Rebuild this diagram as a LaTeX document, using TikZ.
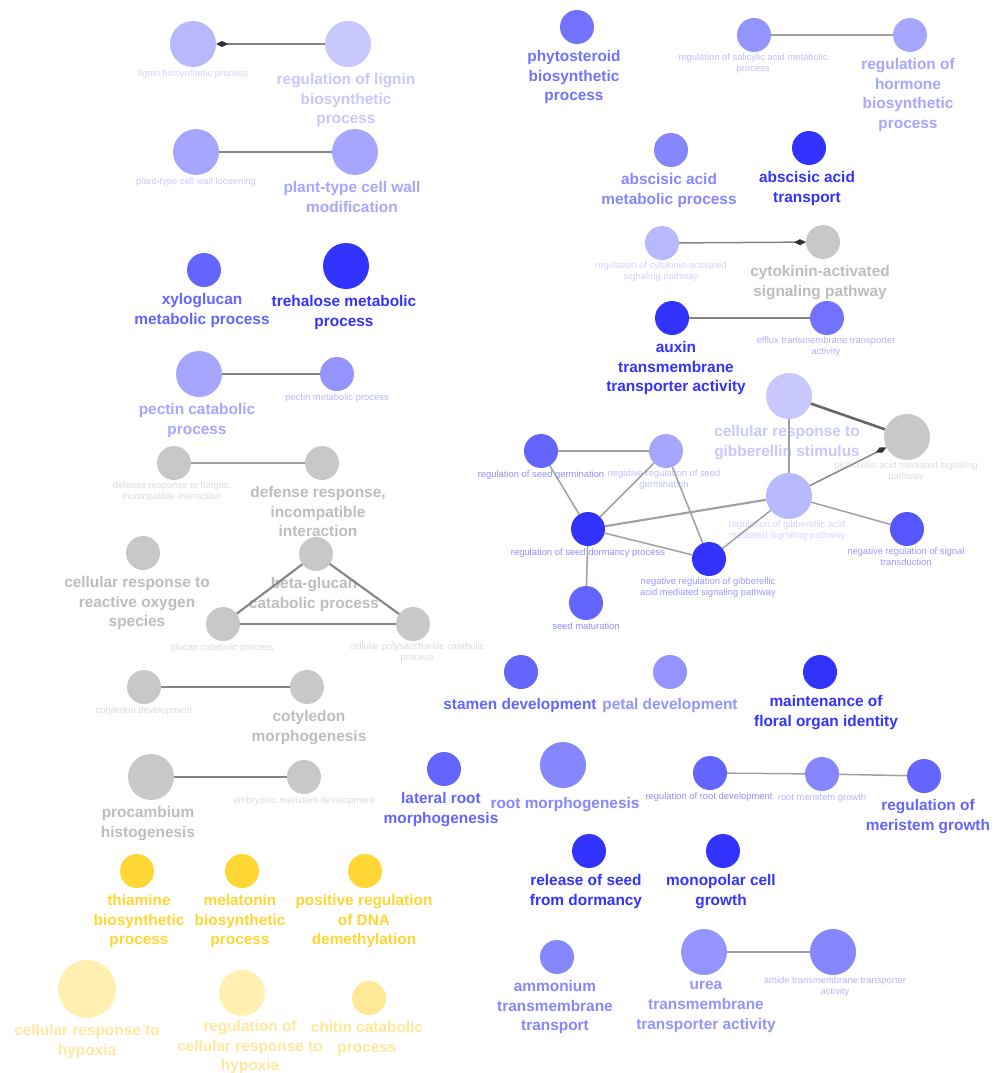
\documentclass[tikz,border=0pt]{standalone}
\usepackage{fontspec}
\setmainfont{Liberation Sans}
\usetikzlibrary{arrows.meta}
\definecolor{b1}{HTML}{C8C8FF}
\definecolor{b2}{HTML}{B8B8FF}
\definecolor{b3}{HTML}{A6A6FF}
\definecolor{b4}{HTML}{9494FF}
\definecolor{b5}{HTML}{8686FF}
\definecolor{b6}{HTML}{7272FF}
\definecolor{b7}{HTML}{6464FF}
\definecolor{b7x}{HTML}{5656FF}
\definecolor{b8}{HTML}{3333FF}
\definecolor{gr}{HTML}{C8C8C8}
\definecolor{grl}{HTML}{BDBDBD}
\definecolor{y1}{HTML}{FFD633}
\definecolor{y2}{HTML}{FFEFB0}
\definecolor{y3}{HTML}{FFE898}
\definecolor{y2l}{HTML}{FFE9A0}
\definecolor{ec}{HTML}{A0A0A0}
\definecolor{ecd}{HTML}{858585}
\pgfdeclarelayer{bg}
\pgfdeclarelayer{lab}
\pgfdeclarelayer{edg}
\pgfsetlayers{bg,lab,edg,main}
\tikzset{
  gn/.style={circle, inner sep=0pt, outer sep=0pt, draw=none},
  nS/.style={gn, minimum size=34pt},
  nM/.style={gn, minimum size=46pt},
  nL/.style={gn, minimum size=58pt},
  bl/.style={font=\bfseries\fontsize{15.4}{19.8}\selectfont, align=center, anchor=north, inner sep=0pt, execute at begin node=\strut, yshift=-3.5pt},
  sl/.style={font=\fontsize{9.4}{11.5}\selectfont, align=center, anchor=north, inner sep=0pt, execute at begin node=\strut},
  ed/.style={draw=ec, line width=1.5pt},
  edd/.style={draw=ecd, line width=2.1pt},
  dia/.style={-{Diamond[length=12pt,width=6pt,color=black!80]}}
}
\begin{document}
\begin{tikzpicture}[x=1pt,y=-1pt]
\useasboundingbox (0,0) rectangle (995,1073);
\begin{pgfonlayer}{bg}
\fill[white] (0,0) rectangle (995,1073);
\end{pgfonlayer}
% ---------------- nodes ----------------
\node[nM, fill=b2] (lig) at (193,44) {};
\node[nM, fill=b1] (reglig) at (348,44) {};
\node[nM, fill=b3] (ptl) at (196,152) {};
\node[nM, fill=b3] (ptm) at (355,152) {};
\node[nS, fill=b7] (xyl) at (204,270) {};
\node[nM, fill=b8] (tre) at (346,266) {};
\node[nM, fill=b3] (pcat) at (199,374) {};
\node[nS, fill=b4] (pmet) at (337,374) {};
\node[nS, fill=gr] (dfun) at (174,463) {};
\node[nS, fill=gr] (dinc) at (322,463) {};
\node[nS, fill=gr] (ros) at (143,553) {};
\node[nS, fill=gr] (bglu) at (316,554) {};
\node[nS, fill=gr] (glu) at (223,624) {};
\node[nS, fill=gr] (cps) at (413,624) {};
\node[nS, fill=gr] (cdev) at (144,687) {};
\node[nS, fill=gr] (cmor) at (307,687) {};
\node[nM, fill=gr] (proc) at (151,777) {};
\node[nS, fill=gr] (emb) at (304,777) {};
\node[nS, fill=y1] (thi) at (137,871) {};
\node[nS, fill=y1] (mel) at (242,871) {};
\node[nS, fill=y1] (dna) at (365,871) {};
\node[nL, fill=y2] (hyp) at (87,989) {};
\node[nM, fill=y2] (rhyp) at (242,993) {};
\node[nS, fill=y3] (chi) at (369,998) {};
\node[nS, fill=b6] (phy) at (577,27) {};
\node[nS, fill=b4] (sal) at (754,35) {};
\node[nS, fill=b3] (hor) at (910,35) {};
\node[nS, fill=b5] (abam) at (671,150) {};
\node[nS, fill=b8] (abat) at (809,148) {};
\node[nS, fill=b2] (rcyt) at (662,243) {};
\node[nS, fill=gr] (cyt) at (823,242) {};
\node[nS, fill=b8] (aux) at (672,318) {};
\node[nS, fill=b6] (eff) at (827,318) {};
\node[nM, fill=b1] (crg) at (789,396) {};
\node[nM, fill=gr] (gas) at (907,437) {};
\node[nM, fill=b2] (rga) at (789,496) {};
\node[nS, fill=b7] (rsg) at (541,451) {};
\node[nS, fill=b3] (nrsg) at (666,451) {};
\node[nS, fill=b8] (rsd) at (588,529) {};
\node[nS, fill=b8] (nrga) at (709,559) {};
\node[nS, fill=b7] (smat) at (586,603) {};
\node[nS, fill=b7x] (nrst) at (907,529) {};
\node[nS, fill=b7] (stam) at (521,672) {};
\node[nS, fill=b4] (pet) at (670,672) {};
\node[nS, fill=b8] (flo) at (820,672) {};
\node[nS, fill=b7] (lat) at (444,769) {};
\node[nM, fill=b5] (rmor) at (563,765) {};
\node[nS, fill=b7] (rrd) at (710,773) {};
\node[nS, fill=b5] (rmg) at (822,774) {};
\node[nS, fill=b7] (rmeg) at (924,776) {};
\node[nS, fill=b8] (rel) at (589,851) {};
\node[nS, fill=b8] (mono) at (723,851) {};
\node[nS, fill=b5] (amm) at (557,957) {};
\node[nM, fill=b4] (urea) at (704,952) {};
\node[nM, fill=b5] (amide) at (833,952) {};
% ---------------- labels ----------------
\begin{pgfonlayer}{lab}
% bold labels
\node[bl, text=b1] at ([xshift=-2pt,yshift=-2.5pt]reglig.south) {regulation of lignin\\biosynthetic\\process};
\node[bl, text=b3] at ([xshift=-3pt,yshift=-2.5pt]ptm.south) {plant-type cell wall\\modification};
\node[bl, text=b7] at ([xshift=-2pt,yshift=-2.5pt]xyl.south) {xyloglucan\\metabolic process};
\node[bl, text=b8] at ([xshift=-2pt,yshift=-2.5pt]tre.south) {trehalose metabolic\\process};
\node[bl, text=b3] at ([xshift=-2pt,yshift=-2.5pt]pcat.south) {pectin catabolic\\process};
\node[bl, text=grl] at ([xshift=-4pt,yshift=-2.5pt]dinc.south) {defense response,\\incompatible\\interaction};
\node[bl, text=grl] at ([xshift=-6pt,yshift=-2.5pt]ros.south) {cellular response to\\reactive oxygen\\species};
\node[bl, text=grl] at ([xshift=-2pt,yshift=-2.5pt]bglu.south) {beta-glucan\\catabolic process};
\node[bl, text=grl] at ([xshift=2pt,yshift=-2.5pt]cmor.south) {cotyledon\\morphogenesis};
\node[bl, text=grl] at ([xshift=-3pt,yshift=-2.5pt]proc.south) {procambium\\histogenesis};
\node[bl, text=y1] at ([xshift=2pt,yshift=-2.5pt]thi.south) {thiamine\\biosynthetic\\process};
\node[bl, text=y1] at ([xshift=-2pt,yshift=-2.5pt]mel.south) {melatonin\\biosynthetic\\process};
\node[bl, text=y1] at ([xshift=-1pt,yshift=-2.5pt]dna.south) {positive regulation\\of DNA\\demethylation};
\node[bl, text=y2l] at ([yshift=-2.5pt]hyp.south) {cellular response to\\hypoxia};
\node[bl, text=y2l, font=\bfseries\fontsize{15.4}{19.3}\selectfont] at ([xshift=8pt,yshift=-1pt]rhyp.south) {regulation of\\cellular response to\\hypoxia};
\node[bl, text=y3] at ([xshift=-2pt,yshift=-2.5pt]chi.south) {chitin catabolic\\process};
\node[bl, text=b6] at ([xshift=-3pt,yshift=-2.5pt]phy.south) {phytosteroid\\biosynthetic\\process};
\node[bl, text=b3] at ([xshift=-2pt,yshift=-2.5pt]hor.south) {regulation of\\hormone\\biosynthetic\\process};
\node[bl, text=b5] at ([xshift=-2pt,yshift=-2.5pt]abam.south) {abscisic acid\\metabolic process};
\node[bl, text=b8] at ([xshift=-2pt,yshift=-2.5pt]abat.south) {abscisic acid\\transport};
\node[bl, text=grl] at ([xshift=-3pt,yshift=-2.5pt]cyt.south) {cytokinin-activated\\signaling pathway};
\node[bl, text=b8] at ([xshift=4pt,yshift=-2.5pt]aux.south) {auxin\\transmembrane\\transporter activity};
\node[bl, text=b1] at ([xshift=-2pt,yshift=-2.5pt]crg.south) {cellular response to\\gibberellin stimulus};
\node[bl, text=b7] at ([xshift=-1pt,yshift=-2.5pt]stam.south) {stamen development};
\node[bl, text=b4] at ([yshift=-2.5pt]pet.south) {petal development};
\node[bl, text=b8] at ([xshift=6pt,yshift=-2.5pt]flo.south) {maintenance of\\floral organ identity};
\node[bl, text=b7] at ([xshift=-3pt,yshift=-2.5pt]lat.south) {lateral root\\morphogenesis};
\node[bl, text=b5] at ([xshift=2pt,yshift=-2.5pt]rmor.south) {root morphogenesis};
\node[bl, text=b7] at ([xshift=4pt,yshift=-2.5pt]rmeg.south) {regulation of\\meristem growth};
\node[bl, text=b8] at ([xshift=-3pt,yshift=-2.5pt]rel.south) {release of seed\\from dormancy};
\node[bl, text=b8] at ([xshift=-2pt,yshift=-2.5pt]mono.south) {monopolar cell\\growth};
\node[bl, text=b5] at ([xshift=-2pt,yshift=-2.5pt]amm.south) {ammonium\\transmembrane\\transport};
\node[bl, text=b4] at ([xshift=2pt,yshift=-2.5pt]urea.south) {urea\\transmembrane\\transporter activity};
% small labels
\node[sl, text=b2!60!white] at ([yshift=-1.4pt]lig.south) {lignin biosynthetic process};
\node[sl, text=b3!60!white] at ([yshift=-1.4pt]ptl.south) {plant-type cell wall loosening};
\node[sl, text=b4!65!white] at ([yshift=-1.4pt]pmet.south) {pectin metabolic process};
\node[sl, text=gr!65!white] at ([xshift=-2pt,yshift=-1.4pt]dfun.south) {defense response to fungus,\\incompatible interaction};
\node[sl, text=gr!65!white] at ([xshift=-1pt,yshift=-1.4pt]glu.south) {glucan catabolic process};
\node[sl, text=gr!65!white] at ([xshift=4pt,yshift=-1.4pt]cps.south) {cellular polysaccharide catabolic\\process};
\node[sl, text=gr!65!white] at ([yshift=-1.4pt]cdev.south) {cotyledon development};
\node[sl, text=gr!65!white] at ([yshift=-1.4pt]emb.south) {embryonic meristem development};
\node[sl, text=b4!60!white] at ([xshift=-1pt,yshift=-1.4pt]sal.south) {regulation of salicylic acid metabolic\\process};
\node[sl, text=b2!60!white] at ([xshift=-1pt,yshift=-1.4pt]rcyt.south) {regulation of cytokinin-activated\\signaling pathway};
\node[sl, text=b6!55!white] at ([xshift=-1pt,yshift=-1.4pt]eff.south) {efflux transmembrane transporter\\activity};
\node[sl, text=b7!72!white] at ([yshift=-1.4pt]rsg.south) {regulation of seed germination};
\node[sl, text=b3!72!white] at ([xshift=-2pt,yshift=-1.4pt]nrsg.south) {negative regulation of seed\\germination};
\node[sl, text=b7!72!white] at ([yshift=-1.4pt]rsd.south) {regulation of seed dormancy process};
\node[sl, text=b6!72!white] at ([xshift=-1pt,yshift=-1.4pt]nrga.south) {negative regulation of gibberellic\\acid mediated signaling pathway};
\node[sl, text=b7!72!white] at ([yshift=-1.4pt]smat.south) {seed maturation};
\node[sl, text=b2!60!white] at ([xshift=-2pt,yshift=-1.4pt]rga.south) {regulation of gibberellic acid\\mediated signaling pathway};
\node[sl, text=gr!60!white] at ([xshift=-1pt,yshift=-1.4pt]gas.south) {gibberellic acid mediated signaling\\pathway};
\node[sl, text=b6!72!white] at ([xshift=-1pt,yshift=-1.4pt]nrst.south) {negative regulation of signal\\transduction};
\node[sl, text=b7!72!white] at ([xshift=-1pt,yshift=-1.4pt]rrd.south) {regulation of root development};
\node[sl, text=b5!60!white] at ([yshift=-1.4pt]rmg.south) {root meristem growth};
\node[sl, text=b5!60!white] at ([xshift=2pt,yshift=-1.4pt]amide.south) {amide transmembrane transporter\\activity};
\end{pgfonlayer}
% ---------------- edges ----------------
\begin{pgfonlayer}{edg}
\draw[edd, dia] (reglig) -- (lig);
\draw[edd] (ptl) -- (ptm);
\draw[edd] (pcat) -- (pmet);
\draw[ed] (dfun) -- (dinc);
\draw[edd] (bglu) -- (glu);
\draw[edd] (bglu) -- (cps);
\draw[edd] (glu) -- (cps);
\draw[edd] (cdev) -- (cmor);
\draw[edd] (proc) -- (emb);
\draw[ed] (sal) -- (hor);
\draw[ed, draw=ecd, dia] (rcyt) -- (cyt);
\draw[edd] (aux) -- (eff);
\draw[ed] (rsg) -- (nrsg);
\draw[ed] (rsg) -- (rsd);
\draw[ed] (nrsg) -- (rsd);
\draw[ed] (nrsg) -- (nrga);
\draw[ed] (rsd) -- (nrga);
\draw[edd, draw=ec] (rsd) -- (rga);
\draw[ed] (rsd) -- (smat);
\draw[ed] (nrga) -- (rga);
\draw[ed] (crg) -- (rga);
\draw[draw=black!60, line width=2.6pt] (crg) -- (gas);
\draw[ed, draw=ecd, dia] (rga) -- (gas);
\draw[ed] (rga) -- (nrst);
\draw[ed] (rrd) -- (rmg);
\draw[ed] (rmg) -- (rmeg);
\draw[ed] (urea) -- (amide);
\end{pgfonlayer}
\end{tikzpicture}
\end{document}
